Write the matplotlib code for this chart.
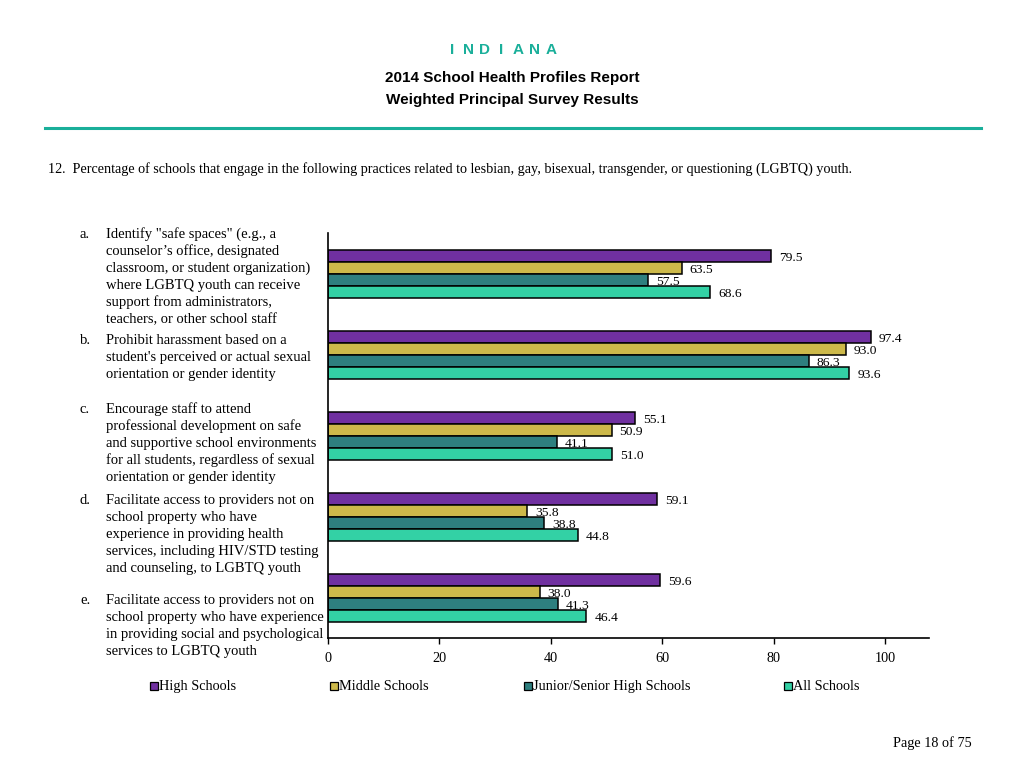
import matplotlib
matplotlib.use("Agg")
import matplotlib.pyplot as plt
from matplotlib.patches import Rectangle

series_names = ["High Schools", "Middle Schools", "Junior/Senior High Schools", "All Schools"]
colors = ["#7030A0", "#CDB94A", "#2E7F7F", "#33D1A5"]
letters = ["a.", "b.", "c.", "d.", "e."]
categories = [
    "Identify \"safe spaces\" (e.g., a\ncounselor\u2019s office, designated\nclassroom, or student organization)\nwhere LGBTQ youth can receive\nsupport from administrators,\nteachers, or other school staff",
    "Prohibit harassment based on a\nstudent's perceived or actual sexual\norientation or gender identity",
    "Encourage staff to attend\nprofessional development on safe\nand supportive school environments\nfor all students, regardless of sexual\norientation or gender identity",
    "Facilitate access to providers not on\nschool property who have\nexperience in providing health\nservices, including HIV/STD testing\nand counseling, to LGBTQ youth",
    "Facilitate access to providers not on\nschool property who have experience\nin providing social and psychological\nservices to LGBTQ youth",
]
high = [79.5, 97.4, 55.1, 59.1, 59.6]
middle = [63.5, 93.0, 50.9, 35.8, 38.0]
junior = [57.5, 86.3, 41.1, 38.8, 41.3]
all_schools = [68.6, 93.6, 51.0, 44.8, 46.4]
values = [high, middle, junior, all_schools]
xticks = [0, 20, 40, 60, 80, 100]

W, H = 1024, 768
fig = plt.figure(figsize=(W / 100, H / 100), dpi=100)
serif = "Liberation Serif"
sans = "Liberation Sans"

def fx(px):
    return px / W

def fy(py):
    return 1 - py / H

# Header
title_word = "INDIANA"
step = 16.5
start = 452
for i, ch in enumerate(title_word):
    fig.text(fx(start + step * i), fy(50), ch, ha="center", va="center", color="#1AAF9A",
             fontsize=11, fontweight="bold", family=sans)
fig.text(0.5, fy(78), "2014 School Health Profiles Report", ha="center", va="center",
         fontsize=11, fontweight="bold", family=sans)
fig.text(0.5, fy(100), "Weighted Principal Survey Results", ha="center", va="center",
         fontsize=11, fontweight="bold", family=sans)
fig.add_artist(plt.Line2D([fx(45), fx(981)], [fy(128), fy(128)], color="#1AAF9A", lw=2.2))
fig.text(fx(48), fy(169), "12.  Percentage of schools that engage in the following practices related to lesbian, gay, bisexual, transgender, or questioning (LGBTQ) youth.",
         ha="left", va="center", fontsize=10.2, family=serif)

# Axes
ax_left, ax_right, ax_top, ax_bottom = 328, 929, 233, 638
ax = fig.add_axes([fx(ax_left), fy(ax_bottom), (ax_right - ax_left) / W, (ax_bottom - ax_top) / H])
px_per_unit = (885 - 328) / 100.0
ax.set_xlim(0, (ax_right - ax_left) / px_per_unit)
slot = 12.0
ax.set_ylim(0, (ax_bottom - ax_top) / slot)

first_center_px = 256
group_step_px = 81
for g in range(len(categories)):
    for j, vals in enumerate(values):
        cpx = first_center_px + group_step_px * g + slot * j
        yc = (ax_bottom - cpx) / slot
        ax.barh(yc, vals[g], height=0.95, color=colors[j], edgecolor="black", linewidth=1.1)
        ax.text(vals[g] + 8 / px_per_unit, yc - 0.15, f"{vals[g]:.1f}", ha="left", va="center",
                fontsize=9.7, family=serif)

for s in ["top", "right"]:
    ax.spines[s].set_visible(False)
ax.spines["left"].set_linewidth(1.2)
ax.spines["bottom"].set_linewidth(1.2)
ax.set_yticks([])
ax.set_xticks(xticks)
ax.set_xticklabels([str(t) for t in xticks], family=serif, fontsize=10.3)
ax.tick_params(axis="x", length=4, width=1, pad=6)

# Category labels
label_tops = [233, 339, 408, 499, 599]
line_h = 17
for g, (let, cat) in enumerate(zip(letters, categories)):
    base = label_tops[g] + 5
    fig.text(fx(80), fy(base), let, ha="left", va="baseline", fontsize=10.5, family=serif)
    for i, line in enumerate(cat.split("\n")):
        fig.text(fx(106), fy(base + line_h * i), line, ha="left", va="baseline",
                 fontsize=10.5, family=serif)

# Legend
legend_x = [150, 330, 524, 784]
for name, c, lx in zip(series_names, colors, legend_x):
    fig.add_artist(Rectangle((fx(lx), fy(690)), 8 / W, 8 / H, facecolor=c, edgecolor="black",
                             linewidth=0.9, transform=fig.transFigure))
    fig.text(fx(lx + 9), fy(690), name, ha="left", va="baseline", fontsize=10.3, family=serif)

fig.text(fx(972), fy(743), "Page 18 of 75", ha="right", va="center", fontsize=10.3, family=serif)

fig.savefig("out.png", dpi=100)
